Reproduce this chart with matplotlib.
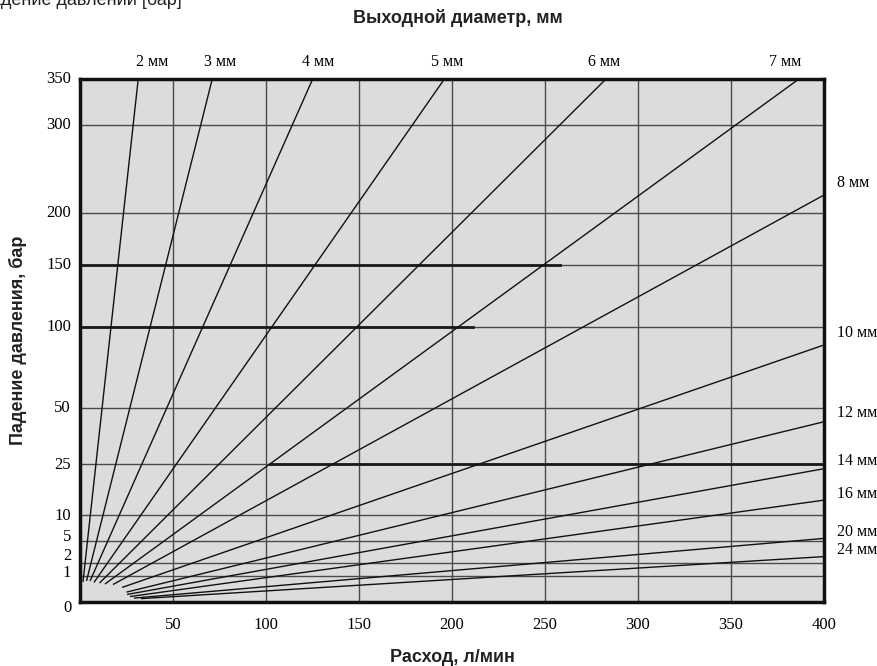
import numpy as np
import matplotlib
matplotlib.use("Agg")
import matplotlib.pyplot as plt

# ---- data -------------------------------------------------------------
diameters = ["2 мм", "3 мм", "4 мм", "5 мм", "6 мм", "7 мм", "8 мм",
             "10 мм", "12 мм", "14 мм", "16 мм", "20 мм", "24 мм"]
start_flow = [1.6, 3.5, 5.4, 7.5, 10.5, 13.4, 17.7, 22.6, 25.0, 25.3, 26.9, 29.0, 32.8]
start_drop = [0.77, 0.81, 0.81, 0.75, 0.73, 0.69, 0.67, 0.56, 0.38, 0.29, 0.21, 0.15, 0.13]
end_flow = [31.3, 71.1, 125.1, 195.9, 282.8, 386.5, 400, 400, 400, 400, 400, 400, 400]
end_drop = [350, 350, 350, 350, 350, 350, 220.7, 88.8, 44.0, 23.7, 14.4, 5.5, 2.9]

flow_ticks = [50, 100, 150, 200, 250, 300, 350, 400]
drop_ticks = [0, 1, 2, 5, 10, 25, 50, 100, 150, 200, 300, 350]
# nomogram scale: relative height of each pressure tick on the chart
drop_scale_pos = [0, 26, 38.7, 61, 87, 137.7, 193.7, 275.3, 337, 388.7, 477, 523]

# ---- scale ------------------------------------------------------------
def fwd(v):
    return np.interp(v, drop_ticks, drop_scale_pos)

def inv(h):
    return np.interp(h, drop_scale_pos, drop_ticks)

serif = "Liberation Serif"
sans = "Liberation Sans"

fig = plt.figure(figsize=(8.78, 6.66), dpi=100)
ax = fig.add_axes([80 / 878, 64 / 666, 744 / 878, 523 / 666])
ax.set_yscale("function", functions=(fwd, inv))
ax.set_xlim(0, 400)
ax.set_ylim(0, 350)
ax.set_facecolor("#dcdcdf")

# grid
grid_c = "#4a4a4a"
for q in flow_ticks[:-1]:
    ax.axvline(q, color=grid_c, lw=1.0, zorder=1)
for p in drop_ticks[1:-1]:
    ax.axhline(p, color=grid_c, lw=1.0, zorder=1)
# heavier printed segments
ax.axhline(150, xmin=0, xmax=(560 - 80) / 744, color="#1a1a1a", lw=2.0, zorder=1.5)
ax.axhline(100, xmin=0, xmax=(473 - 80) / 744, color="#1a1a1a", lw=2.0, zorder=1.5)
ax.axhline(25, xmin=(270 - 80) / 744, xmax=1, color="#1a1a1a", lw=2.0, zorder=1.5)

# diameter lines
for q0, p0, q1, p1 in zip(start_flow, start_drop, end_flow, end_drop):
    ax.plot([q0, q1], [p0, p1], color="#111111", lw=1.0, zorder=3,
            solid_capstyle="butt")

# labels of diameter lines
top_off = [14, 8, 5, 3, -2, -14]
right_off = [-12, -12, -9, -8, -6, -6, -7]
ti = ri = 0
for name, q1, p1 in zip(diameters, end_flow, end_drop):
    if p1 >= 350:
        ax.annotate(name, (q1, p1), xytext=(top_off[ti] * 0.72, 17 * 0.72),
                    textcoords="offset points", ha="center", va="center",
                    fontsize=11.5, family=serif, annotation_clip=False)
        ti += 1
    else:
        ax.annotate(name, (q1, p1), xytext=(13 * 0.72, -right_off[ri] * 0.72),
                    textcoords="offset points", ha="left", va="center",
                    fontsize=11.5, family=serif, annotation_clip=False)
        ri += 1

# ticks
ax.set_xticks(flow_ticks)
ax.set_xticklabels([str(v) for v in flow_ticks], family=serif, fontsize=12)
ax.set_yticks(drop_ticks)
ax.set_yticklabels([])
ax.tick_params(axis="both", length=0)
ax.tick_params(axis="x", pad=11)

# y labels (printed slightly off their grid lines in the original)
ylab_dy = [-6, 3, 7, 4, -1, -1, 0, 0, 0, 0, 0, 0]
ylab_dx = [-12, -9, -9, -9, -9, -9, -9, -9, -9, -9, -9, -9]
for v, dx, dy in zip(drop_ticks, ylab_dx, ylab_dy):
    ax.annotate(str(v), (0, v), xytext=(dx * 0.72, dy * 0.72), textcoords="offset points",
                ha="center" if v == 0 else "right", va="center", fontsize=12,
                family=serif, annotation_clip=False)

for s in ax.spines.values():
    s.set_linewidth(2.5)
    s.set_color("#111111")
    s.set_zorder(5)

# axis titles
fig.text(458 / 878, 1 - 18 / 666, "Выходной диаметр, мм", ha="center", va="center",
         fontsize=13, family=sans, fontweight="bold", color="#222222")
fig.text(452 / 878, 1 - 658 / 666, "Расход, л/мин", ha="center", va="center",
         fontsize=13, family=sans, fontweight="bold", color="#222222")
fig.text(18 / 878, 1 - 340 / 666, "Падение давления, бар", ha="center", va="center",
         rotation=90, fontsize=13, family=sans, fontweight="bold", color="#222222")
fig.text(182 / 878, 1 - 5 / 666, "Падение давлений [бар]", ha="right", va="baseline",
         fontsize=13, family=sans, color="#222222")

fig.savefig("out.png", dpi=100, facecolor="white")
